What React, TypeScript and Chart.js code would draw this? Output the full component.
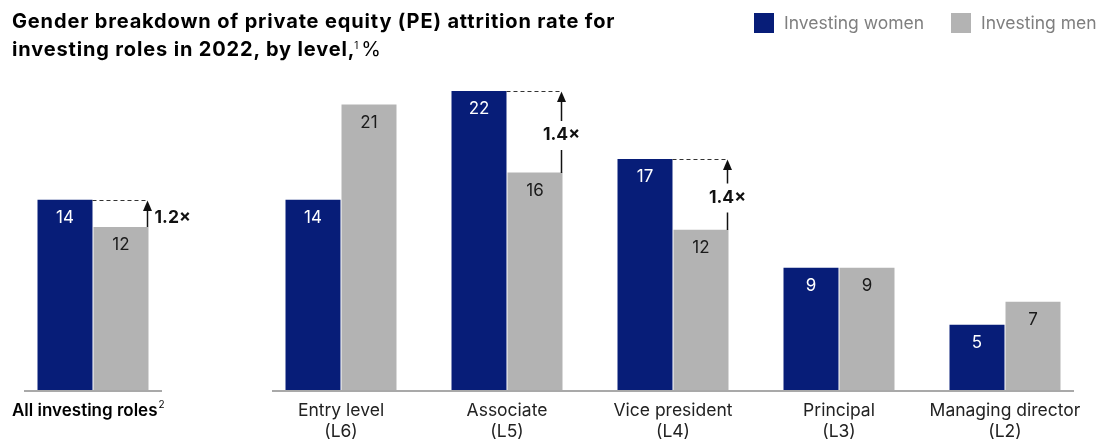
import React, { useEffect, useRef } from 'react';
import { Chart, registerables } from 'chart.js';

Chart.register(...registerables);

const FONT = 'Inter, "Liberation Sans", Arial, sans-serif';
const NAVY = '#071D78';
const GRAY = '#B3B3B3';
const AXIS = '#A9A9A9';

// Overall group
const overallCategories = ['All investing roles'];
const overallWomen = [14];
const overallMen = [12];
const overallRatio = ['1.2×'];

// By level (bar heights as drawn; labels are the rounded values)
const levelCategories = [
  ['Entry level', '(L6)'],
  ['Associate', '(L5)'],
  ['Vice president', '(L4)'],
  ['Principal', '(L3)'],
  ['Managing director', '(L2)'],
];
const levelWomen = [14, 22, 17, 9, 4.8];
const levelMen = [21, 16, 11.8, 9, 6.5];
const levelRatio: (string | null)[] = [null, '1.4×', '1.4×', null, null];

const Y_MAX = 22;

type DecorOpts = {
  ratios: (string | null)[];
  ratioSide: 'right' | 'inline';
  footLabel?: string;
  footSup?: string;
};

const decorPlugin = {
  id: 'decor',
  afterDatasetsDraw(chart: any, _args: any, opts: DecorOpts) {
    const ctx = chart.ctx as CanvasRenderingContext2D;
    const metaW = chart.getDatasetMeta(0);
    const metaM = chart.getDatasetMeta(1);
    const area = chart.chartArea;
    ctx.save();

    // value labels
    ctx.textAlign = 'center';
    ctx.textBaseline = 'middle';
    ctx.font = `17px ${FONT}`;
    [metaW, metaM].forEach((meta: any, di: number) => {
      const ds = chart.data.datasets[di];
      meta.data.forEach((el: any, i: number) => {
        ctx.fillStyle = di === 0 ? '#FFFFFF' : '#1A1A1A';
        ctx.fillText(String(Math.round(ds.data[i])), el.x, el.y + 18);
      });
    });

    // baseline
    let minX = Infinity;
    let maxX = -Infinity;
    [metaW, metaM].forEach((meta: any) => {
      meta.data.forEach((el: any) => {
        minX = Math.min(minX, el.x - el.width / 2);
        maxX = Math.max(maxX, el.x + el.width / 2);
      });
    });
    ctx.fillStyle = AXIS;
    ctx.fillRect(minX - 13.5, area.bottom, maxX - minX + 27, 2);

    // ratio annotations
    opts.ratios.forEach((r, i) => {
      if (!r) return;
      const w = metaW.data[i];
      const m = metaM.data[i];
      const yTop = Math.round(w.y);
      const yM = Math.round(m.y);
      const xA = Math.round(m.x + m.width / 2) - 0.5;
      ctx.strokeStyle = '#333333';
      ctx.lineWidth = 1;
      ctx.setLineDash([4, 3]);
      ctx.beginPath();
      ctx.moveTo(w.x + w.width / 2, yTop + 0.5);
      ctx.lineTo(xA, yTop + 0.5);
      ctx.stroke();
      ctx.setLineDash([]);
      const headH = 10;
      ctx.strokeStyle = '#111111';
      ctx.lineWidth = 1.5;
      ctx.font = `bold 17.5px ${FONT}`;
      ctx.fillStyle = '#111111';
      if (opts.ratioSide === 'inline') {
        const ly = (yTop + yM) / 2 + 3;
        ctx.beginPath();
        ctx.moveTo(xA, yM);
        ctx.lineTo(xA, ly + 15);
        ctx.moveTo(xA, ly - 14);
        ctx.lineTo(xA, yTop + headH);
        ctx.stroke();
        ctx.textAlign = 'center';
        ctx.fillText(r, xA, ly);
      } else {
        ctx.beginPath();
        ctx.moveTo(xA, yM);
        ctx.lineTo(xA, yTop + headH);
        ctx.stroke();
        ctx.textAlign = 'left';
        ctx.fillText(r, xA + 7, (yTop + yM) / 2 + 4);
      }
      ctx.beginPath();
      ctx.moveTo(xA, yTop + 0.5);
      ctx.lineTo(xA - 4.5, yTop + headH + 1);
      ctx.lineTo(xA + 4.5, yTop + headH + 1);
      ctx.closePath();
      ctx.fill();
    });

    if (opts.footLabel) {
      ctx.textAlign = 'left';
      ctx.textBaseline = 'middle';
      ctx.fillStyle = '#000000';
      ctx.font = `600 17px ${FONT}`;
      const lx = 12;
      const ly = area.bottom + 21;
      ctx.fillText(opts.footLabel, lx, ly);
      const tw = ctx.measureText(opts.footLabel).width;
      if (opts.footSup) {
        ctx.font = `10px ${FONT}`;
        ctx.fillText(opts.footSup, lx + tw + 1, ly - 6);
      }
    }
    ctx.restore();
  },
};

function makeConfig(
  labels: any[],
  women: number[],
  men: number[],
  pad: { left: number; right: number },
  catPct: number,
  decor: DecorOpts,
  showTicks: boolean
): any {
  return {
    type: 'bar',
    data: {
      labels,
      datasets: [
        { label: 'Investing women', data: women, backgroundColor: NAVY, borderWidth: 0 },
        { label: 'Investing men', data: men, backgroundColor: GRAY, borderWidth: 0 },
      ],
    },
    options: {
      animation: false,
      responsive: false,
      maintainAspectRatio: false,
      layout: { padding: { top: 91, left: pad.left, right: pad.right, bottom: 0 } },
      datasets: { bar: { categoryPercentage: catPct, barPercentage: 0.982 } },
      plugins: {
        legend: { display: false },
        tooltip: { enabled: false },
        title: { display: false },
        decor,
      },
      scales: {
        x: {
          grid: { display: false, drawTicks: false },
          border: { display: false },
          ticks: {
            display: showTicks,
            font: { family: FONT, size: 17.5, lineHeight: 1.2 },
            color: '#222222',
            padding: 10,
            maxRotation: 0,
            autoSkip: false,
          },
          afterFit: (s: any) => {
            s.height = 53;
          },
        },
        y: { display: false, min: 0, max: Y_MAX },
      },
    },
    plugins: [decorPlugin],
  };
}

export default function App() {
  const leftRef = useRef<HTMLCanvasElement>(null);
  const rightRef = useRef<HTMLCanvasElement>(null);

  useEffect(() => {
    const left = new Chart(
      leftRef.current!,
      makeConfig(
        overallCategories,
        overallWomen,
        overallMen,
        { left: 24, right: 38 },
        112 / 138,
        { ratios: overallRatio, ratioSide: 'right', footLabel: overallCategories[0], footSup: '2' },
        false
      )
    );
    const right = new Chart(
      rightRef.current!,
      makeConfig(
        levelCategories,
        levelWomen,
        levelMen,
        { left: 58, right: 27 },
        112 / 166,
        { ratios: levelRatio, ratioSide: 'inline' },
        true
      )
    );
    return () => {
      left.destroy();
      right.destroy();
    };
  }, []);

  const legendText: React.CSSProperties = {
    position: 'absolute',
    top: 12,
    fontFamily: FONT,
    fontSize: 17.5,
    lineHeight: '22px',
    color: '#7F7F7F',
    whiteSpace: 'nowrap',
  };

  return (
    <div style={{ position: 'absolute', left: 0, top: 0, width: 1115, height: 443, background: '#fff', overflow: 'hidden' }}>
      <canvas ref={leftRef} width={200} height={443} style={{ position: 'absolute', left: 0, top: 0, width: 200, height: 443 }} />
      <canvas ref={rightRef} width={915} height={443} style={{ position: 'absolute', left: 200, top: 0, width: 915, height: 443 }} />
      <div
        style={{
          position: 'absolute',
          left: 12,
          top: 9,
          fontFamily: FONT,
          fontWeight: 'bold',
          fontSize: 20,
          letterSpacing: '0.85px',
          lineHeight: '24px',
          color: '#000',
          whiteSpace: 'nowrap',
        }}
      >
        <div>Gender breakdown of private equity (PE) attrition rate for</div>
        <div>
          investing roles in 2022, by level,
          <span style={{ fontSize: 10, fontWeight: 'normal', verticalAlign: 7, letterSpacing: 0, marginLeft: -1 }}>1</span>
          <span style={{ fontWeight: 'normal', letterSpacing: 0, marginLeft: 3 }}>%</span>
        </div>
      </div>
      <div style={{ position: 'absolute', left: 754, top: 13, width: 20, height: 20, background: NAVY }} />
      <div style={{ ...legendText, left: 784 }}>Investing women</div>
      <div style={{ position: 'absolute', left: 951, top: 13, width: 20, height: 20, background: GRAY }} />
      <div style={{ ...legendText, left: 981 }}>Investing men</div>
    </div>
  );
}
